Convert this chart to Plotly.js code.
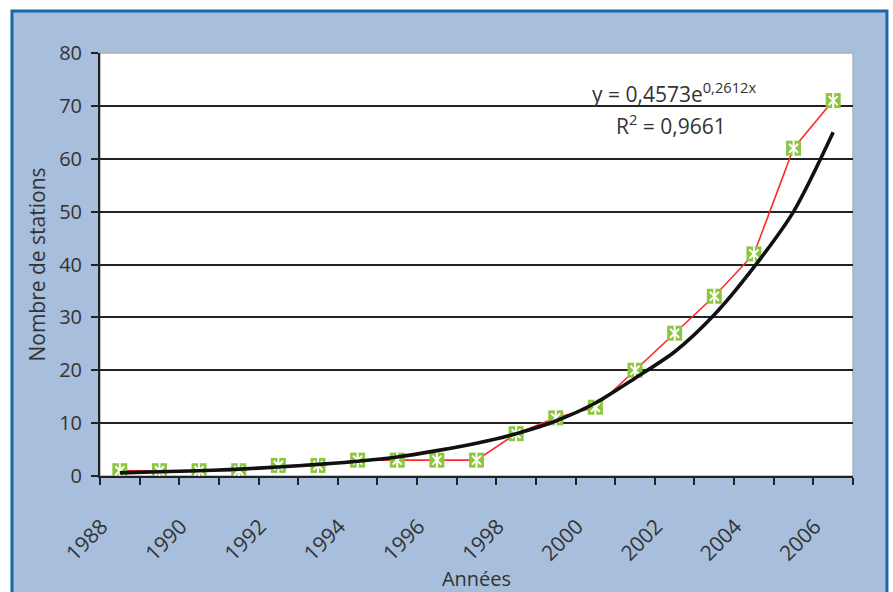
<!DOCTYPE html>
<html>
<head>
<meta charset="utf-8">
<script src="https://cdn.plot.ly/plotly-3.0.1.min.js"></script>
<style>html,body{margin:0;padding:0;background:#fff;}#chart{width:893px;height:592px;}</style>
</head>
<body>
<div id="chart"></div>
<script>
const years = [1988,1989,1990,1991,1992,1993,1994,1995,1996,1997,1998,1999,2000,2001,2002,2003,2004,2005,2006];
const stations = [1,1,1,1,2,2,3,3,3,3,8,11,13,20,27,34,42,62,71];
const trend = [0.6,0.8,1.0,1.3,1.7,2.2,2.8,3.6,4.8,6.2,8.0,10.4,13.8,18.5,23.5,30.5,39.5,50,65];
const labelYears = [1988,1990,1992,1994,1996,1998,2000,2002,2004,2006];
const boundaries = years.map(y => y - 0.5).concat([years[years.length-1] + 0.5]);
const yTicks = [0,10,20,30,40,50,60,70,80];
const equation = "y = 0,4573e<sup>0,2612x</sup>";
const r2 = "R<sup>2</sup> = 0,9661";

const FONT = "'Open Sans', Lato, sans-serif";
const textColor = "#333333";
const LABEL_OFFSET = -0.46; // shift of rotated labels along the axis (style)

const traces = [
  {x: years, y: stations, type: 'scatter', mode: 'lines', line: {color: '#ff2a2a', width: 1.6}, hoverinfo: 'skip', showlegend: false},
  {x: years, y: stations, type: 'scatter', mode: 'markers', marker: {symbol: 'square', size: 15, color: '#8cc63f', line: {width: 0}}, showlegend: false},
  {x: years, y: stations, type: 'scatter', mode: 'markers', marker: {symbol: 'x-thin-open', size: 9, color: '#ffffff', line: {color: '#ffffff', width: 2}}, showlegend: false},
  {x: years, y: stations, type: 'scatter', mode: 'markers', marker: {symbol: 'line-ns-open', size: 11, color: '#ffffff', line: {color: '#ffffff', width: 2}}, showlegend: false},
  {x: years, y: trend, type: 'scatter', mode: 'lines', line: {color: '#111111', width: 3.6, shape: 'spline', smoothing: 0.8}, showlegend: false},
  {x: labelYears, y: labelYears.map(() => 0), xaxis: 'x2', type: 'scatter', mode: 'markers', marker: {opacity: 0}, hoverinfo: 'skip', showlegend: false}
];

const x0 = years[0] - 0.5, x1 = years[years.length-1] + 0.5;

const layout = {
  width: 893, height: 592,
  margin: {l: 100, r: 40, t: 53, b: 116},
  paper_bgcolor: '#ffffff',
  plot_bgcolor: '#ffffff',
  font: {family: FONT, color: textColor, size: 19},
  xaxis: {
    range: [x0, x1], tickmode: 'array', tickvals: boundaries, showticklabels: false,
    ticks: 'outside', ticklen: 7, tickwidth: 2, tickcolor: '#222',
    showline: true, linecolor: '#222', linewidth: 2, showgrid: false, zeroline: false
  },
  xaxis2: {
    overlaying: 'x', matches: 'x', anchor: 'y', side: 'bottom',
    range: [x0, x1], tickmode: 'array', tickvals: labelYears.map(y => y + LABEL_OFFSET), ticktext: labelYears.map(String),
    tickangle: -45, ticks: 'outside', ticklen: 29, tickcolor: 'rgba(0,0,0,0)',
    showline: false, showgrid: false, zeroline: false,
    tickfont: {family: FONT, size: 21, color: textColor},
    title: {text: 'Années', font: {family: FONT, size: 20, color: textColor}, standoff: 2}
  },
  yaxis: {
    range: [0, 80], tickmode: 'array', tickvals: yTicks,
    ticks: 'outside', ticklen: 7, tickwidth: 2, tickcolor: '#222',
    showline: true, linecolor: '#222', linewidth: 2,
    showgrid: true, gridcolor: '#222', gridwidth: 2, zeroline: false,
    ticklabelstandoff: 5,
    tickfont: {family: FONT, size: 20, color: textColor},
    title: {text: 'Nombre de stations', font: {family: FONT, size: 21, color: textColor}, standoff: 8}
  },
  shapes: [
    {type: 'rect', xref: 'paper', yref: 'paper', x0: -0.1169, x1: 1.0451, y0: -0.3, y1: 1.099,
     fillcolor: '#a7bedc', line: {color: '#1a66ad', width: 3}, layer: 'below'},
    {type: 'rect', xref: 'paper', yref: 'paper', x0: 0, x1: 1, y0: 0, y1: 1,
     fillcolor: '#ffffff', line: {color: '#b0b0b0', width: 1.5}, layer: 'below'}
  ],
  annotations: [
    {xref: 'paper', yref: 'paper', x: 0.762, y: 0.907, text: equation, showarrow: false, xanchor: 'center', yanchor: 'middle', font: {family: FONT, size: 21, color: textColor}},
    {xref: 'paper', yref: 'paper', x: 0.758, y: 0.83, text: r2, showarrow: false, xanchor: 'center', yanchor: 'middle', font: {family: FONT, size: 21, color: textColor}}
  ]
};

Plotly.newPlot('chart', traces, layout, {displayModeBar: false, staticPlot: true});
</script>
</body>
</html>
